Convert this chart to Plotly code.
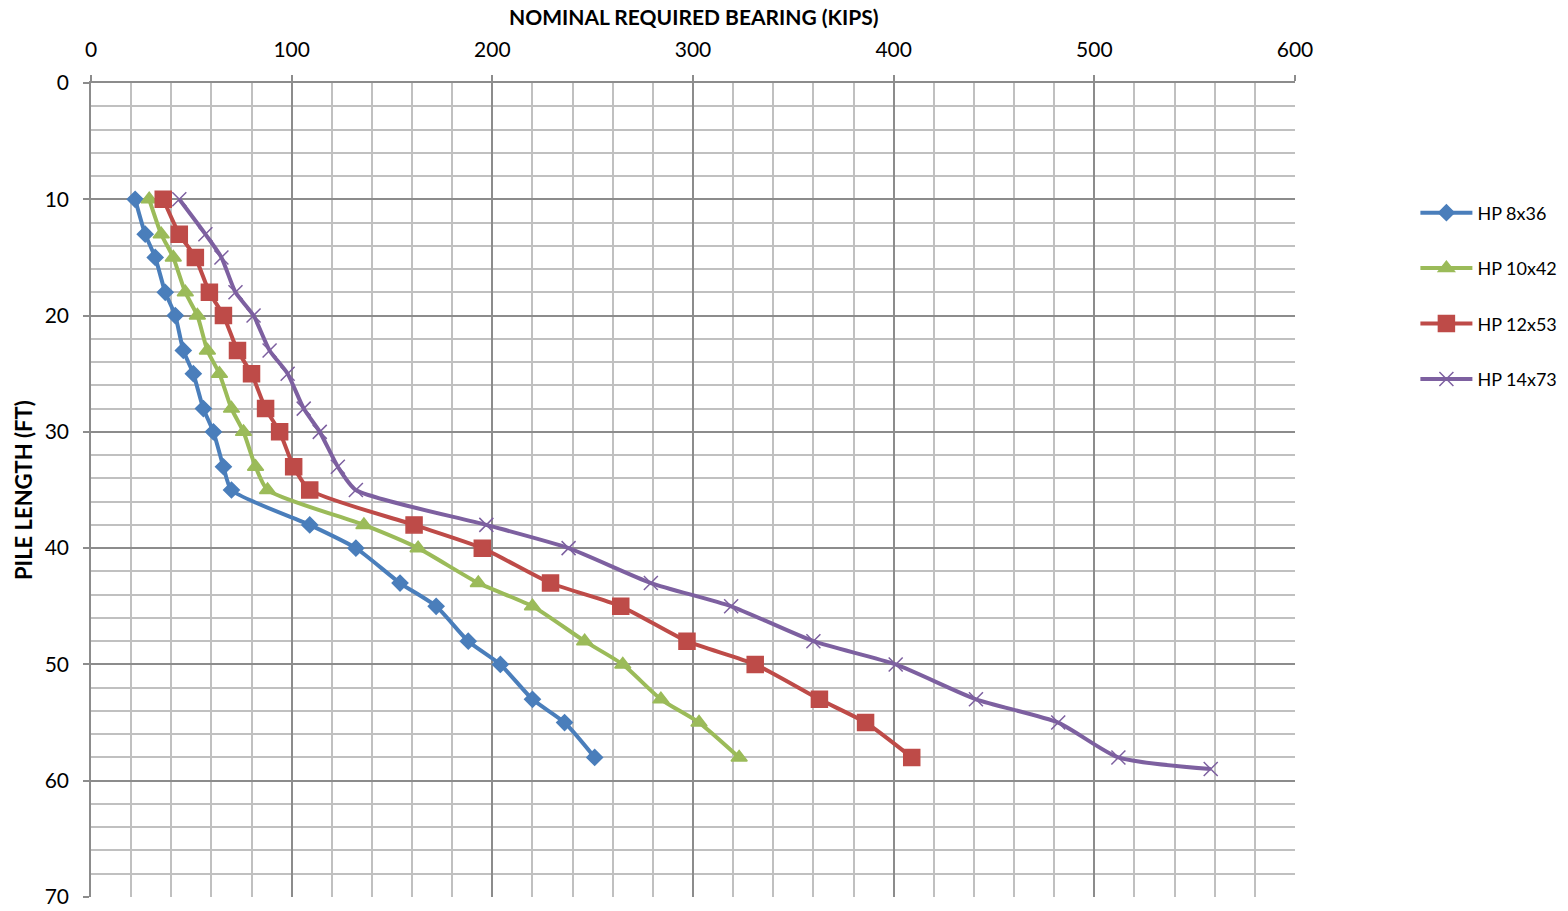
import plotly.graph_objects as go

depth = [10, 13, 15, 18, 20, 23, 25, 28, 30, 33, 35, 38, 40, 43, 45, 48, 50, 53, 55, 58]
depth_14 = depth + [59]

hp8x36 = [22, 27, 32, 37, 42, 46, 51, 56, 61, 66, 70, 109, 132, 154, 172, 188, 204, 220, 236, 251]
hp10x42 = [29, 35, 41, 47, 53, 58, 64, 70, 76, 82, 88, 136, 163, 193, 220, 246, 265, 284, 303, 323]
hp12x53 = [36, 44, 52, 59, 66, 73, 80, 87, 94, 101, 109, 161, 195, 229, 264, 297, 331, 363, 386, 409]
hp14x73 = [44, 57, 65, 72, 81, 89, 98, 106, 114, 123, 132, 197, 238, 279, 319, 360, 401, 441, 482, 512, 558]

series = [
    ("HP 8x36", hp8x36, depth, "#4a7ebb", dict(symbol="diamond", size=12)),
    ("HP 10x42", hp10x42, depth, "#9bbb59", dict(symbol="triangle-up", size=14)),
    ("HP 12x53", hp12x53, depth, "#be4b48", dict(symbol="square", size=16)),
    ("HP 14x73", hp14x73, depth_14, "#7d60a0", dict(symbol="x-thin-open", size=14)),
]

FONT = "Lato, 'Open Sans', sans-serif"

fig = go.Figure()
for i, (name, xs, ys, col, mk) in enumerate(series):
    marker = dict(color=col, line=dict(color=col, width=1.5), **mk)
    fig.add_trace(go.Scatter(
        x=xs, y=ys, name=name, mode="lines+markers",
        line=dict(color=col, width=4, shape="spline", smoothing=0.6),
        marker=marker, legendgroup=f"g{i}",
    ))

fig.update_layout(
    width=1568, height=911,
    margin=dict(l=91, r=273, t=83, b=14, autoexpand=False),
    paper_bgcolor="white", plot_bgcolor="white",
    font=dict(family=FONT, size=21, color="#000"),
    showlegend=True,
    legend=dict(
        x=1.1, y=0.863, xanchor="left", yanchor="top",
        font=dict(family=FONT, size=18),
        tracegroupgap=29, itemwidth=52,
        bgcolor="rgba(0,0,0,0)",
    ),
    xaxis=dict(
        side="top", range=[0, 600], dtick=100, tick0=0,
        showgrid=True, gridcolor="#8c8c8c", gridwidth=1.5,
        minor=dict(dtick=20, showgrid=True, gridcolor="#c0c0c0", gridwidth=1.5),
        ticks="outside", ticklen=6, tickcolor="#8c8c8c", tickwidth=1.5,
        showline=True, linecolor="#8c8c8c", linewidth=1.5,
        zeroline=False, tickfont=dict(size=21), ticklabelstandoff=10,
        automargin=False,
    ),
    yaxis=dict(
        range=[70, 0], dtick=10, tick0=0,
        showgrid=True, gridcolor="#8c8c8c", gridwidth=1.5,
        minor=dict(dtick=2, showgrid=True, gridcolor="#c0c0c0", gridwidth=1.5),
        ticks="outside", ticklen=6, tickcolor="#8c8c8c", tickwidth=1.5,
        showline=True, linecolor="#8c8c8c", linewidth=1.5,
        zeroline=False, tickfont=dict(size=21), ticklabelstandoff=10,
        automargin=False,
    ),
    annotations=[
        dict(text="<b>NOMINAL REQUIRED BEARING (KIPS)</b>", xref="paper", yref="paper",
             x=0.5, y=1.0 + (83 - 16) / 814, xanchor="center", yanchor="middle",
             showarrow=False, font=dict(size=21)),
        dict(text="<b>PILE LENGTH (FT)</b>", xref="paper", yref="paper",
             x=-(91 - 23) / 1204, y=0.5, xanchor="center", yanchor="middle",
             textangle=-90, showarrow=False, font=dict(size=22)),
    ],
)

fig.write_html("out.html")
